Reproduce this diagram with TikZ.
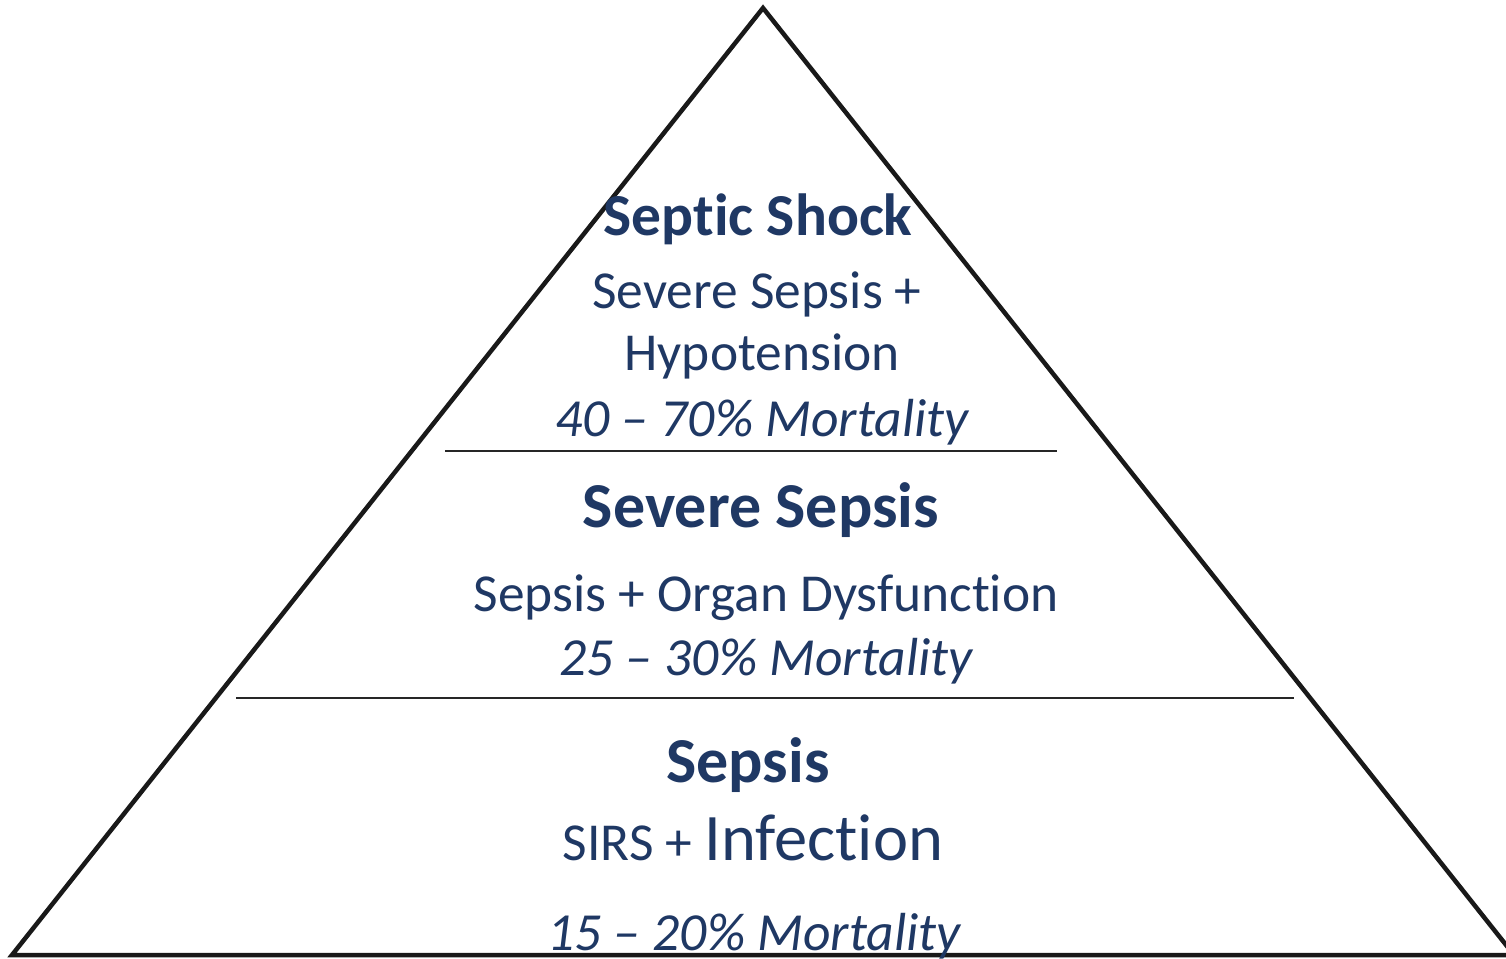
\documentclass[tikz,border=0pt]{standalone}
\usepackage{fontspec}
\setmainfont[Ligatures=NoCommon]{Carlito}
\usetikzlibrary{positioning}
\definecolor{navy}{RGB}{31,56,100}
\tikzset{
	title/.style={anchor=base, inner sep=0pt, text=navy, font=\fontsize{64}{64}\selectfont\bfseries},
	body/.style={anchor=base, inner sep=0pt, text=navy, font=\fontsize{53.4}{53.4}\selectfont},
	rate/.style={anchor=base, inner sep=0pt, text=navy, font=\fontsize{53.6}{53.6}\selectfont\itshape},
	divider/.style={line width=1.6pt, black!85},
}

\begin{document}
\begin{tikzpicture}[x=1pt, y=-1pt]
\useasboundingbox (0, 0) rectangle (1506, 958);
\clip (0, 0) rectangle (1506, 958);

% pyramid outline
\coordinate (top) at (763, 8);
\coordinate (left) at (12, 955);
\coordinate (right) at (1514, 955);
\draw[line width=4.5pt, black!90, line join=miter] (top) -- (left) -- (right) -- cycle;

% dividers
\coordinate (d1a) at (445, 451);
\coordinate (d1b) at (1057, 451);
\coordinate (d2a) at (236, 698);
\coordinate (d2b) at (1294, 698);
\draw[divider] (d1a) -- (d1b);
\draw[divider] (d2a) -- (d2b);

% top tier
\node[title, font=\fontsize{59.5}{59.5}\selectfont\bfseries] (shock) at (758, 235) {Septic Shock};
\node[body] (shockdef1) at (757, 308) {Severe Sepsis +};
\node[body] (shockdef2) at (762, 370) {Hypotension};
\node[rate] (shockrate) at (762, 436) {40 -- 70\% Mortality};

% middle tier
\node[title] (severe) at (761, 527) {Severe Sepsis};
\node[body] (severedef) at (766, 611) {Sepsis + Organ Dysfunction};
\node[rate] (severerate) at (766, 675) {25 -- 30\% Mortality};

% bottom tier
\node[title] (sepsis) at (748, 782) {Sepsis};
\node[body] (sepsisdef) at (753, 860) {SIRS + {\fontsize{66.5}{66.5}\selectfont Infection}};
\node[rate] (sepsisrate) at (754, 950) {15 -- 20\% Mortality};
\end{tikzpicture}
\end{document}
